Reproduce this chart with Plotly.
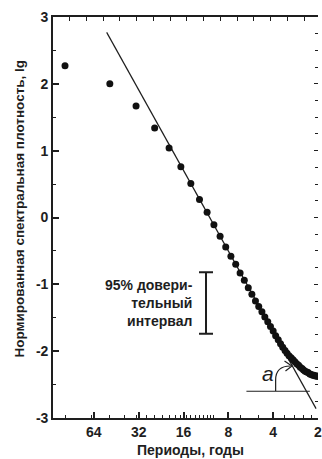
import math
import plotly.graph_objects as go

# ---- data ----
periods = [100.0, 50.0, 33.33, 25.0, 20.0, 16.67, 14.29, 12.5, 11.11, 10.0,
           9.09, 8.33, 7.69, 7.14, 6.67, 6.25, 5.88, 5.56, 5.26, 5.0,
           4.76, 4.55, 4.35, 4.17, 4.0, 3.85, 3.70, 3.57, 3.45, 3.33,
           3.23, 3.13, 3.03, 2.94, 2.86, 2.78, 2.70, 2.63, 2.56, 2.50,
           2.44, 2.38, 2.33, 2.27, 2.22, 2.17, 2.13, 2.08, 2.04, 2.0]
spectral = [2.27, 2.00, 1.67, 1.34, 1.04, 0.76, 0.51, 0.27, 0.08, -0.11,
            -0.28, -0.44, -0.58, -0.70, -0.83, -0.94, -1.05, -1.15, -1.25, -1.33,
            -1.41, -1.49, -1.56, -1.63, -1.70, -1.77, -1.83, -1.89, -1.94, -1.99,
            -2.03, -2.07, -2.10, -2.13, -2.16, -2.19, -2.21, -2.24, -2.26, -2.28,
            -2.30, -2.31, -2.32, -2.34, -2.35, -2.36, -2.36, -2.37, -2.37, -2.38]

fit_periods = [52.5, 2.06]
fit_values = [2.77, -2.86]

angle_periods = [6.05, 2.27]
angle_values = [-2.60, -2.60]

ci_period = 11.3
ci_center = -1.28
ci_half = 0.46

x_tickvals = [64, 32, 16, 8, 4, 2]
x_ticktext = ["64", "32", "16", "8", "4", "2"]
x_minor_freq = [0.01, 0.015, 0.02, 0.025, 0.03, 0.035, 0.04, 0.045, 0.05, 0.055,
                0.06, 0.065, 0.07, 0.075, 0.08, 0.085, 0.09, 0.095, 0.10,
                0.15, 0.20, 0.30, 0.35, 0.40, 0.45]
y_tickvals = [3, 2, 1, 0, -1, -2, -3]
y_ticktext = ["3", "2", "1", "0", "-1", "-2", "-3"]

x_title = "Периоды, годы"
y_title = "Нормированная спектральная плотность, lg"
ci_text = "95% довери-<br>тельный<br>интервал"

# ---- figure ----
INK = "#1e1e1e"
FONT = "Liberation Sans, Arial, sans-serif"

fig = go.Figure()

fig.add_trace(go.Scatter(
    x=fit_periods, y=fit_values, mode="lines",
    line=dict(color=INK, width=1.2), showlegend=False, hoverinfo="skip"))

fig.add_trace(go.Scatter(
    x=periods, y=spectral, mode="markers",
    marker=dict(color="#111111", size=7), showlegend=False))

fig.add_trace(go.Scatter(
    x=angle_periods, y=angle_values, mode="lines",
    line=dict(color=INK, width=1.2), showlegend=False, hoverinfo="skip"))

fig.add_trace(go.Scatter(
    x=[ci_period], y=[ci_center], mode="markers",
    marker=dict(size=1, color="rgba(0,0,0,0)"),
    error_y=dict(type="data", array=[ci_half], symmetric=True,
                 thickness=2, width=7, color=INK),
    showlegend=False, hoverinfo="skip"))

# helper trace for the decorative top/right axes
fig.add_trace(go.Scatter(x=[None], y=[None], xaxis="x2", yaxis="y2",
                         showlegend=False, hoverinfo="skip"))

L, R, T, B = 53, 0, 17, 41
W, H = 322, 459
pw = W - L - R

x_minor_periods = [1.0 / f for f in x_minor_freq]

fig.update_layout(
    width=W, height=H,
    margin=dict(l=L, r=R, t=T, b=B),
    paper_bgcolor="white", plot_bgcolor="white",
    font=dict(family=FONT, size=14, color=INK),
    xaxis=dict(
        type="log", range=[math.log10(120.4), math.log10(2.0)],
        tickmode="array", tickvals=x_tickvals, ticktext=x_ticktext,
        ticks="inside", ticklen=6, tickwidth=1.5, tickcolor=INK,
        ticklabeloverflow="allow",
        showline=True, linecolor=INK, linewidth=1.6,
        showgrid=False, zeroline=False,
        tickfont=dict(family=FONT, size=14, color=INK, weight="bold"),
        minor=dict(tickmode="array", tickvals=x_minor_periods, ticks="inside",
                   ticklen=3, tickwidth=1, tickcolor=INK, showgrid=False),
    ),
    yaxis=dict(
        range=[-3, 3], tickmode="array", tickvals=y_tickvals, ticktext=y_ticktext,
        ticks="inside", ticklen=6, tickwidth=1.5, tickcolor=INK,
        showline=True, linecolor=INK, linewidth=1.6,
        showgrid=False, zeroline=False,
        tickfont=dict(family=FONT, size=14, color=INK, weight="bold"),
        minor=dict(dtick=0.5, ticks="inside", ticklen=3, tickwidth=1,
                   tickcolor=INK, showgrid=False),
    ),
    xaxis2=dict(
        overlaying="x", side="top", anchor="y", range=[0, pw / 17.0],
        tickmode="linear", tick0=0, dtick=1, ticks="inside", ticklen=4,
        tickwidth=1, tickcolor=INK, showticklabels=False,
        showline=True, linecolor=INK, linewidth=1.6,
        showgrid=False, zeroline=False,
    ),
    yaxis2=dict(
        overlaying="y", side="right", anchor="x", range=[-3, 3],
        tickmode="linear", tick0=0, dtick=1, ticks="inside", ticklen=4,
        tickwidth=1.2, tickcolor=INK, showticklabels=False,
        showline=False, showgrid=False, zeroline=False,
        minor=dict(dtick=0.25, ticks="inside", ticklen=3, tickwidth=1,
                   tickcolor=INK, showgrid=False),
    ),
)

# axis titles
fig.add_annotation(xref="paper", yref="paper", x=0.52, y=(418 - 450) / 401.0,
                   text=x_title, showarrow=False, xanchor="center", yanchor="middle",
                   font=dict(family=FONT, size=14, color=INK, weight="bold"))
fig.add_annotation(xref="paper", yref="paper", x=(18 - L) / pw, y=(418 - 209) / 401.0,
                   text=y_title, showarrow=False, textangle=-90,
                   xanchor="center", yanchor="middle",
                   font=dict(family=FONT, size=13.5, color=INK, weight="bold"))

# confidence interval label
fig.add_annotation(x=math.log10(ci_period), y=ci_center, xref="x", yref="y",
                   text=ci_text, showarrow=False, xanchor="right", yanchor="middle",
                   align="right", xshift=-11,
                   font=dict(family=FONT, size=14, color=INK, weight="bold"))

# angle label
fig.add_annotation(xref="paper", yref="paper", x=(271 - L) / pw, y=(418 - 373) / 401.0,
                   text="<i>a</i>", showarrow=False, xanchor="center", yanchor="middle",
                   font=dict(family=FONT, size=21, color=INK))

def px(xp, yp):
    return (xp - L) / pw, (418 - yp) / 401.0

x0, y0 = px(279, 391)
x1, y1 = px(279, 380)
xc, yc = px(279, 366)
x2, y2 = px(294, 366)
fig.add_shape(type="path", xref="paper", yref="paper",
              path=f"M {x0},{y0} L {x1},{y1} Q {xc},{yc} {x2},{y2}",
              line=dict(color=INK, width=1.2))
ax1, ay1 = px(288, 361)
tx, ty = px(295.5, 366)
ax2, ay2 = px(289, 371)
fig.add_shape(type="path", xref="paper", yref="paper",
              path=f"M {ax1},{ay1} L {tx},{ty} L {ax2},{ay2}",
              line=dict(color=INK, width=1.2))

fig.write_html("out.html",
               config={"displayModeBar": False},
               post_script="document.body.style.margin='0';document.body.style.overflow='hidden';")
